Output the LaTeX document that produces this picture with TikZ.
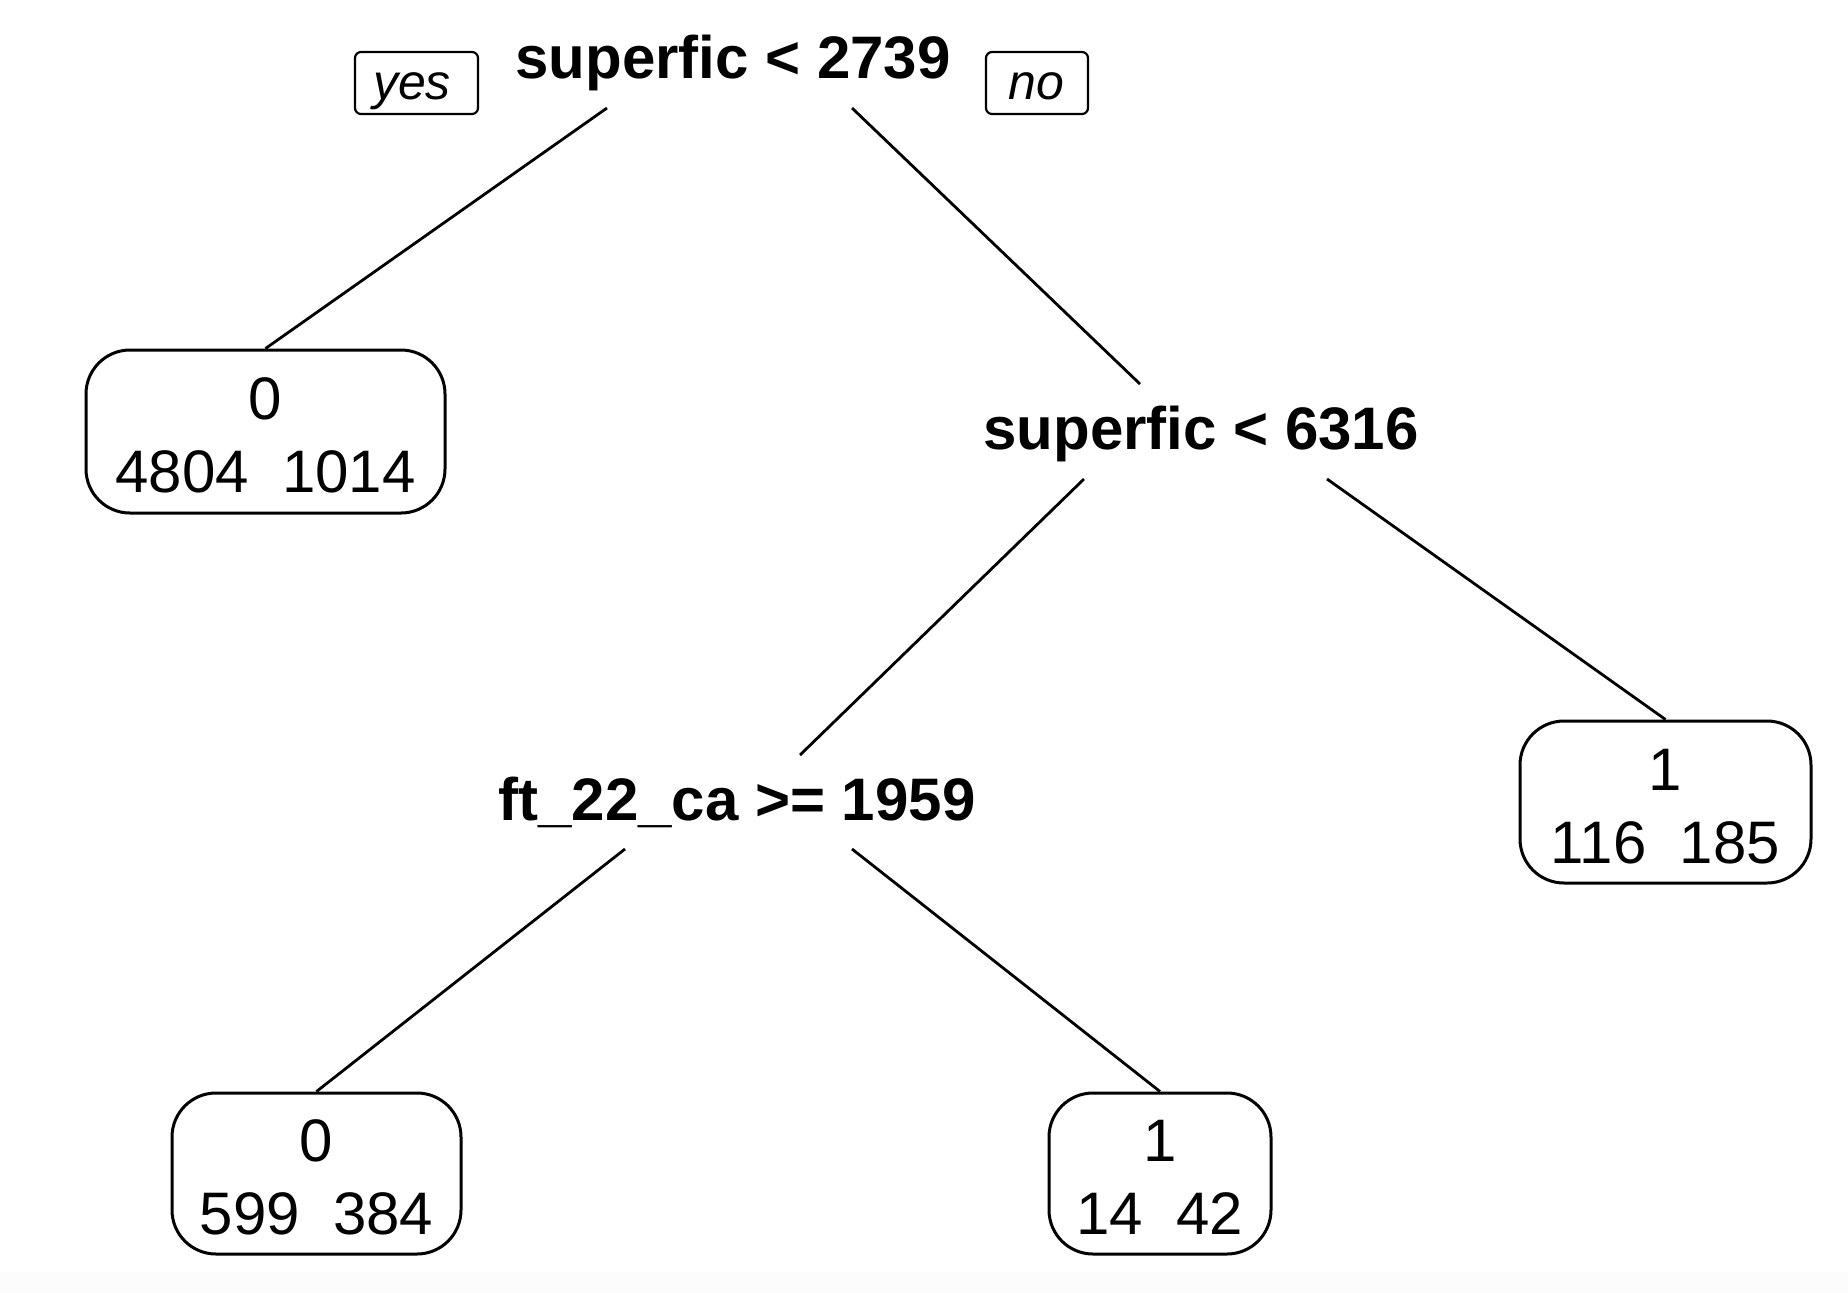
\documentclass[tikz,border=0pt]{standalone}
\usepackage{fontspec}
\setmainfont{Liberation Sans}
\begin{document}
\begin{tikzpicture}[x=0.5pt,y=-0.5pt,
  split/.style={font=\fontsize{30}{36}\selectfont\bfseries, anchor=base, inner sep=0pt},
  leaf/.style={draw, line width=1.5pt, rounded corners=22pt, inner sep=0pt},
  leaftxt/.style={font=\fontsize{30}{36}\selectfont, anchor=base, inner sep=0pt},
  tag/.style={draw, line width=1.1pt, rounded corners=3pt, inner sep=0pt, minimum height=31pt},
  tagtxt/.style={font=\fontsize{25}{28}\selectfont\itshape, anchor=base, inner sep=0pt},
  edge/.style={line width=1.4pt}]
\useasboundingbox (0,0) rectangle (1848,1292);
\fill[white] (0,0) rectangle (1848,1292);
\fill[gray!2] (0,1272) rectangle (1848,1292);

\node[split] (root) at (733,78) {superfic < 2739};
\node[tag, minimum width=61.5pt] (yes) at (416.5,83) {};
\node[tagtxt] (yes-t) at (412,99) {yes};
\node[tag, minimum width=51pt] (no) at (1037,83) {};
\node[tagtxt] (no-t) at (1036,99) {no};

\node[leaf, minimum width=179.5pt, minimum height=81.5pt] (leafA) at (265.5,431.5) {};
\node[leaftxt] (leafA-1) at ([yshift=6pt]leafA.center) {0};
\node[leaftxt] (leafA-2) at ([yshift=-30.5pt]leafA.center) {4804\ \ 1014};

\node[split] (n2) at (1201,449) {superfic < 6316};

\node[leaf, minimum width=145.5pt, minimum height=81pt] (leafR) at (1665.5,802) {};
\node[leaftxt] (leafR-1) at ([yshift=6pt]leafR.center) {1};
\node[leaftxt] (leafR-2) at ([yshift=-30.5pt]leafR.center) {116\ \ 185};

\node[split] (n3) at (737,820) {ft\_22\_ca >= 1959};

\node[leaf, minimum width=144.5pt, minimum height=80.5pt] (leafBL) at (316.5,1173.5) {};
\node[leaftxt] (leafBL-1) at ([yshift=6pt]leafBL.center) {0};
\node[leaftxt] (leafBL-2) at ([yshift=-30.5pt]leafBL.center) {599\ \ 384};

\node[leaf, minimum width=111pt, minimum height=80.5pt] (leafBM) at (1160,1173.5) {};
\node[leaftxt] (leafBM-1) at ([yshift=6pt]leafBM.center) {1};
\node[leaftxt] (leafBM-2) at ([yshift=-30.5pt]leafBM.center) {14\ \ 42};

\coordinate (rL) at (607,108);
\coordinate (rR) at (852,108);
\coordinate (n2top) at (1140,384);
\coordinate (n2L) at (1084,479);
\coordinate (n2R) at (1327,479);
\coordinate (n3top) at (800,755);
\coordinate (n3L) at (625,849);
\coordinate (n3R) at (852,849);

\draw[edge] (rL) -- (leafA.north);
\draw[edge] (rR) -- (n2top);
\draw[edge] (n2L) -- (n3top);
\draw[edge] (n2R) -- (leafR.north);
\draw[edge] (n3L) -- (leafBL.north);
\draw[edge] (n3R) -- (leafBM.north);
\end{tikzpicture}
\end{document}
